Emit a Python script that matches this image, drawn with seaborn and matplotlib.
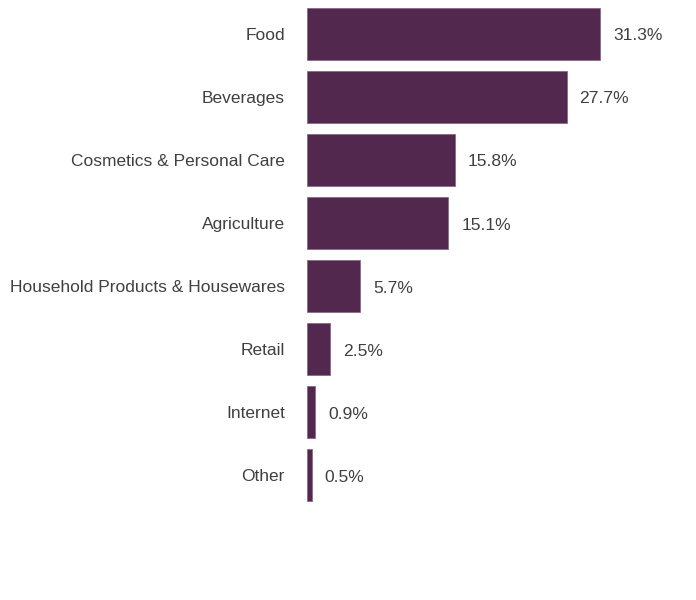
import pandas as pd
import matplotlib
matplotlib.use("Agg")
import matplotlib.pyplot as plt
import seaborn as sns

categories = ["Food", "Beverages", "Cosmetics & Personal Care", "Agriculture",
              "Household Products & Housewares", "Retail", "Internet", "Other"]
shares = [31.3, 27.7, 15.8, 15.1, 5.7, 2.5, 0.9, 0.5]

df = pd.DataFrame({"category": categories, "share": shares})

sns.set_style("white")
plt.rcParams["font.family"] = ["Liberation Sans", "DejaVu Sans"]

fig = plt.figure(figsize=(6.96, 6.0), dpi=100)
ax = fig.add_axes([307 / 696, 0.0, 389 / 696, 1.0])

sns.barplot(data=df, x="share", y="category", color="#52284e", saturation=1,
            width=0.83, edgecolor="#8a6a88", linewidth=0.6, ax=ax)

# 數值標籤
for i, v in enumerate(shares):
    ax.text(v + 1.35, i + 0.03, f"{v}%", va="center", ha="left",
            fontsize=12.6, color="#404040")

ax.set_xlim(0, 389 / 9.37)
ax.set_ylim(8.98, -0.54)
ax.set_xlabel("")
ax.set_ylabel("")
ax.set_xticks([])
ax.tick_params(axis="y", length=0, pad=16, labelsize=12.5, labelcolor="#404040")
sns.despine(ax=ax, left=True, bottom=True)

fig.savefig("out.png", dpi=100)
